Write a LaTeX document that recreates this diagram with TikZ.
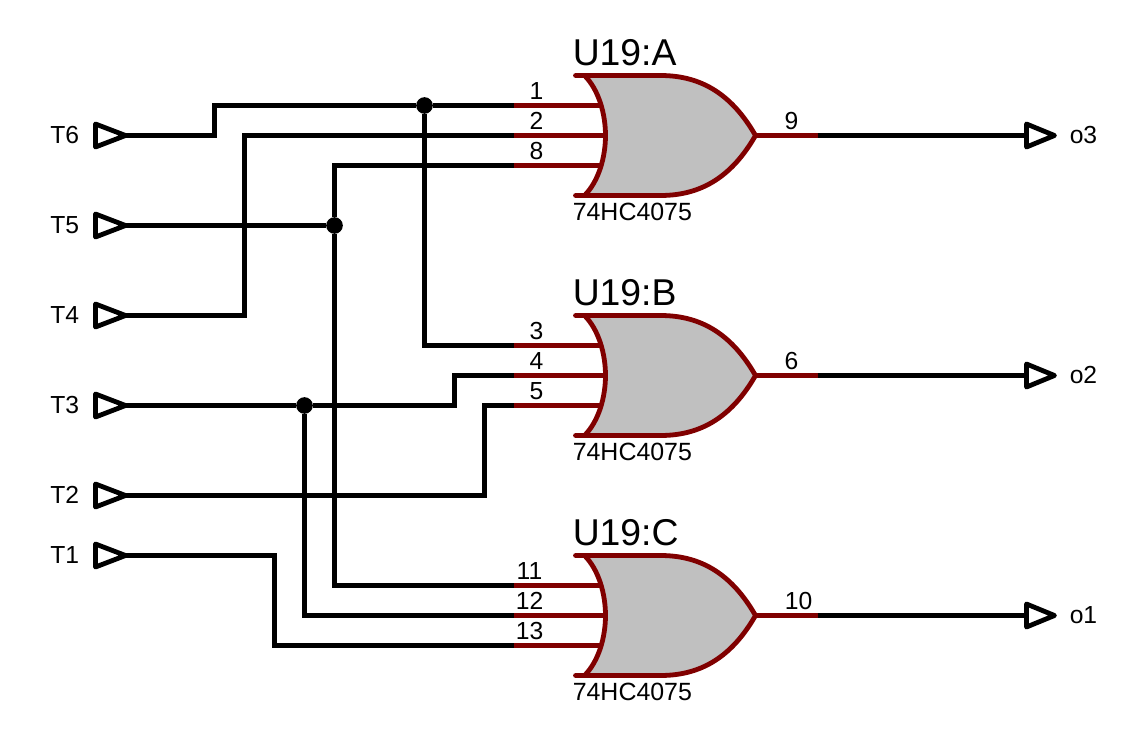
\documentclass[tikz,border=0pt]{standalone}
\usepackage{fontspec}
\setmainfont{Liberation Sans}
\definecolor{pinred}{RGB}{128,0,0}
\definecolor{gatefill}{RGB}{192,192,192}
\tikzset{
  x=0.75pt,y=-0.75pt,
  wire/.style={draw=black,line width=3.6pt,line join=miter},
  pinline/.style={draw=pinred,line width=3.6pt},
  gatebody/.style={draw=pinred,line width=3.6pt,line join=round,line cap=round},
  term/.style={draw=black,line width=3.6pt,line join=round,fill=white},
  dot/.style={circle,fill=black,inner sep=0pt,minimum size=12.5pt},
  pinlabel/.style={inner sep=0pt,anchor=base,font=\fontsize{18.5pt}{20pt}\selectfont},
  termlabel/.style={inner sep=0pt,anchor=base west,font=\fontsize{18.5pt}{20pt}\selectfont},
  gatename/.style={inner sep=0pt,anchor=base west,font=\fontsize{28pt}{30pt}\selectfont},
  gatepart/.style={inner sep=0pt,anchor=base west,font=\fontsize{18.7pt}{20pt}\selectfont},
  orgate/.pic={
    \coordinate (-i1) at (513,-30);
    \coordinate (-i2) at (513,0);
    \coordinate (-i3) at (513,30);
    \coordinate (-o) at (817,0);
    \path[fill=gatefill] (584,-60) -- (660,-60) .. controls (702,-60) and (732,-40) .. (755,0)
      .. controls (732,40) and (702,60) .. (660,60) -- (584,60)
      .. controls (598,46) and (605,22) .. (605,0) .. controls (605,-22) and (598,-46) .. (584,-60) -- cycle;
    \draw[gatebody] (575,-60) -- (660,-60) .. controls (702,-60) and (732,-40) .. (755,0)
      .. controls (732,40) and (702,60) .. (660,60) -- (575,60);
    \draw[gatebody] (584,-60) .. controls (598,-46) and (605,-22) .. (605,0)
      .. controls (605,22) and (598,46) .. (584,60);
    \draw[pinline] (-i1) -- (600,-30);
    \draw[pinline] (-i2) -- (604,0);
    \draw[pinline] (-i3) -- (600,30);
    \draw[pinline] (755,0) -- (-o);
  }
}
\begin{document}
\begin{tikzpicture}
\useasboundingbox (-0.5,-0.5) rectangle (1142.5,748.5);
% gates
\pic (A) at (0,135) {orgate};
\pic (B) at (0,375) {orgate};
\pic (C) at (0,615) {orgate};
% gate texts
\node[gatename] (nameA) at (572,65) {U19:A};
\node[gatename] (nameB) at (572,305) {U19:B};
\node[gatename] (nameC) at (572,545) {U19:C};
\node[gatepart] (partA) at (572,220) {74HC4075};
\node[gatepart] (partB) at (572,460) {74HC4075};
\node[gatepart] (partC) at (572,700) {74HC4075};
% pin numbers
\node[pinlabel] (p1) at (536,99) {1};
\node[pinlabel] (p2) at (536,129) {2};
\node[pinlabel] (p8) at (536,159) {8};
\node[pinlabel] (p9) at (791,129) {9};
\node[pinlabel] (p3) at (536,339) {3};
\node[pinlabel] (p4) at (536,369) {4};
\node[pinlabel] (p5) at (536,399) {5};
\node[pinlabel] (p6) at (791,369) {6};
\node[pinlabel] (p11) at (529,579) {11};
\node[pinlabel] (p12) at (529,609) {12};
\node[pinlabel] (p13) at (529,639) {13};
\node[pinlabel] (p10) at (798,609) {10};
% input terminals
\foreach \n/\y in {6/135,5/225,4/315,3/405,2/495,1/555}{
  \coordinate (T\n) at (125,\y);
  \draw[term] (95,\y-11.5) -- (T\n) -- (95,\y+11.5) -- cycle;
  \node[termlabel] (LT\n) at (49.5,\y+8) {T\n};
}
% output terminals
\foreach \n/\y in {3/135,2/375,1/615}{
  \coordinate (O\n) at (1026,\y);
  \node[termlabel] (LO\n) at (1069,\y+8) {o\n};
}
% junctions
\node[dot] (J1) at (424,105) {};
\node[dot] (J2) at (334,225) {};
\node[dot] (J3) at (304,405) {};
% wires
\draw[wire] (T6) -- (214,135) -- (214,105) -- (J1) -- (A-i1);
\draw[wire] (J1) -- (424,345) -- (B-i1);
\draw[wire] (T4) -- (244,315) -- (244,135) -- (A-i2);
\draw[wire] (T5) -- (J2);
\draw[wire] (A-i3) -- (334,165) -- (J2) -- (334,585) -- (C-i1);
\draw[wire] (T3) -- (J3) -- (454,405) -- (454,375) -- (B-i2);
\draw[wire] (J3) -- (304,615) -- (C-i2);
\draw[wire] (T2) -- (484,495) -- (484,405) -- (B-i3);
\draw[wire] (T1) -- (274,555) -- (274,645) -- (C-i3);
\draw[wire] (A-o) -- (O3);
\draw[wire] (B-o) -- (O2);
\draw[wire] (C-o) -- (O1);
\foreach \n/\y in {3/135,2/375,1/615}{
  \draw[term] (O\n) -- (1026,\y-11.5) -- (1054,\y) -- (1026,\y+11.5) -- cycle;
}
\end{tikzpicture}
\end{document}
